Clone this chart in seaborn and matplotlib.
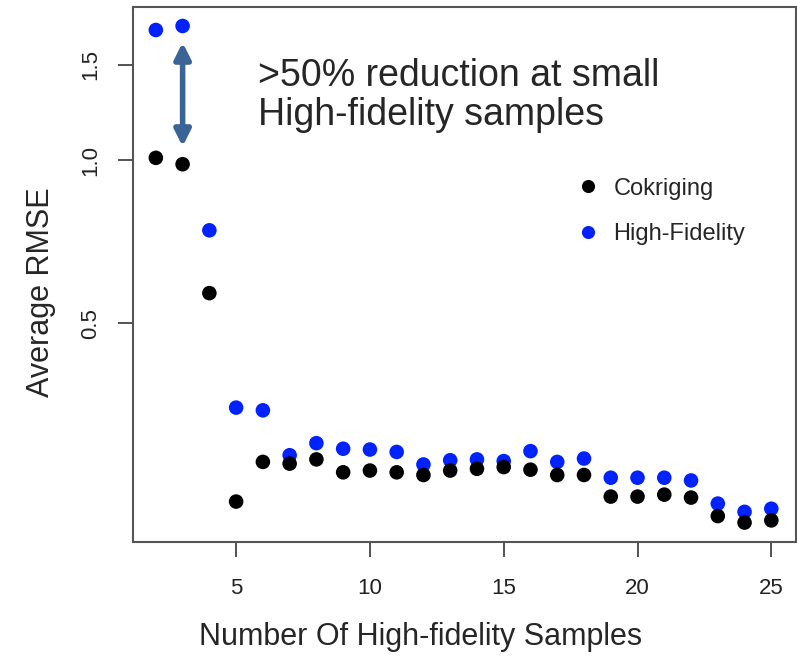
import numpy as np
import pandas as pd
import matplotlib
matplotlib.use("Agg")
import matplotlib.pyplot as plt
import seaborn as sns

samples = list(range(2, 26))
high_fidelity = [1.74, 1.77, 0.742, 0.349, 0.345, 0.285, 0.300, 0.293, 0.292, 0.289,
                 0.274, 0.279, 0.280, 0.278, 0.290, 0.277, 0.281, 0.259, 0.259, 0.259,
                 0.256, 0.232, 0.224, 0.227]
cokriging = [1.01, 0.983, 0.568, 0.234, 0.277, 0.275, 0.280, 0.265, 0.267, 0.265,
             0.262, 0.267, 0.269, 0.271, 0.268, 0.262, 0.262, 0.239, 0.239, 0.241,
             0.238, 0.220, 0.214, 0.216]
y_ticks = [0.5, 1.0, 1.5]
x_ticks = [5, 10, 15, 20, 25]

# blue first so the black dots sit on top
df = pd.concat([
    pd.DataFrame({"n": samples, "rmse": high_fidelity, "method": "High-Fidelity"}),
    pd.DataFrame({"n": samples, "rmse": cokriging, "method": "Cokriging"}),
])

sns.set_style("white")
plt.rcParams["font.family"] = ["Liberation Sans", "DejaVu Sans"]

fig = plt.figure(figsize=(7.97, 6.57), dpi=100)
ax = fig.add_axes([0.167, 0.175, 0.832, 0.814])

sns.scatterplot(data=df, x="n", y="rmse", hue="method",
                hue_order=["Cokriging", "High-Fidelity"],
                palette={"Cokriging": "black", "High-Fidelity": "#0022ff"},
                s=110, linewidth=0, ax=ax)

ax.set_yscale("log")
ax.set_ylim(0.197, 1.917)
ax.set_xlim(1.15, 25.93)
ax.set_yticks(y_ticks)
ax.set_yticklabels([f"{t:.1f}" for t in y_ticks], rotation=90, va="center")
ax.yaxis.set_minor_locator(matplotlib.ticker.NullLocator())
ax.set_xticks(x_ticks)
ax.tick_params(axis="both", which="both", left=True, bottom=True,
               direction="out", length=11, width=1.3,
               labelsize=16, color="#444444", labelcolor="#222222", pad=12)
ax.tick_params(axis="x", pad=15)
for sp in ax.spines.values():
    sp.set_color("#555555")
    sp.set_linewidth(1.5)

ax.set_xlabel("Number Of High-fidelity Samples", fontsize=22)
ax.set_ylabel("Average RMSE", fontsize=22)
ax.xaxis.set_label_coords(0.434, -0.150)
ax.yaxis.set_label_coords(-0.116, 0.467)

leg = ax.legend(frameon=False, fontsize=17, loc="center left",
                bbox_to_anchor=(0.632, 0.618), handletextpad=0.5,
                handlelength=1.2, labelspacing=1.0, markerscale=0.9)

ax.annotate("", xy=(3, 1.06), xytext=(3, 1.65),
            arrowprops=dict(arrowstyle="<|-|>", color="#3a6496", lw=4,
                            mutation_scale=24, shrinkA=0, shrinkB=0))
ax.text(0.188, 0.905, ">50% reduction at small\nHigh-fidelity samples",
        transform=ax.transAxes, fontsize=27, va="top", ha="left",
        linespacing=1.12)

fig.savefig("out.png", dpi=100)
